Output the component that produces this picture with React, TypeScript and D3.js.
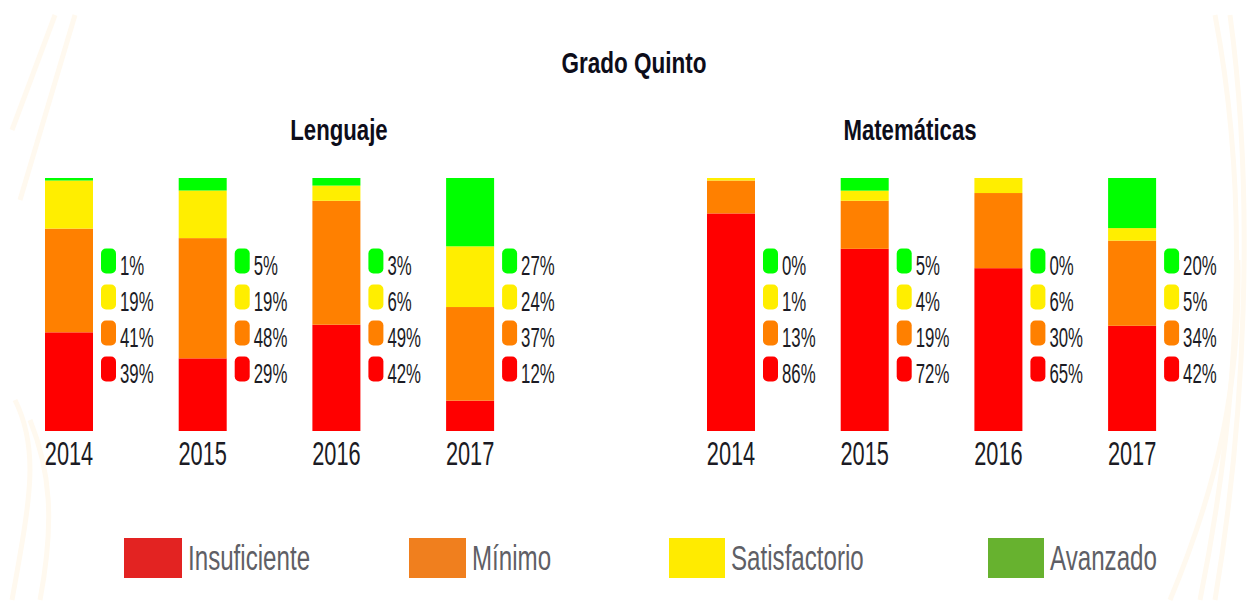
import React from "react";
import * as d3 from "d3";

const years = ["2014", "2015", "2016", "2017"];
const levels = ["Insuficiente", "Mínimo", "Satisfactorio", "Avanzado"];
const barColors = ["#FF0000", "#FF8000", "#FFEE00", "#00FF00"];
const legendColors = ["#E32322", "#F07F1E", "#FFEB00", "#67B22F"];

// Lenguaje values per level (by year)
const lengInsuficiente = [39, 29, 42, 12];
const lengMinimo = [41, 48, 49, 37];
const lengSatisfactorio = [19, 19, 6, 24];
const lengAvanzado = [1, 5, 3, 27];

// Matemáticas values per level (by year)
const matInsuficiente = [86, 72, 65, 42];
const matMinimo = [13, 19, 30, 34];
const matSatisfactorio = [1, 4, 6, 5];
const matAvanzado = [0, 5, 0, 20];

const mainTitle = "Grado Quinto";
const panelTitles = ["Lenguaje", "Matemáticas"];

const W = 1248;
const H = 604;
const FONT = "'Liberation Sans', Arial, sans-serif";

type Panel = { title: string; series: number[][]; x0: number; titleX: number };

const panels: Panel[] = [
  { title: panelTitles[0], series: [lengInsuficiente, lengMinimo, lengSatisfactorio, lengAvanzado], x0: 45, titleX: 339 },
  { title: panelTitles[1], series: [matInsuficiente, matMinimo, matSatisfactorio, matAvanzado], x0: 707, titleX: 910 },
];

const barTop = 178;
const barBottom = 431;
const barW = 48;
const step = 133.7;

function SText(props: { x: number; y: number; sx: number; size: number; anchor?: string; weight?: string | number; fill?: string; children: any }) {
  const { x, y, sx, size, anchor = "start", weight = "normal", fill = "#1b1b24", children } = props;
  return (
    <text
      transform={`translate(${x},${y}) scale(${sx},1)`}
      fontSize={size}
      fontFamily={FONT}
      fontWeight={weight}
      textAnchor={anchor}
      fill={fill}
    >
      {children}
    </text>
  );
}

function PanelView({ p }: { p: Panel }) {
  const x = d3
    .scaleBand<string>()
    .domain(years)
    .range([p.x0, p.x0 + 3 * step + barW])
    .paddingInner(1 - barW / step)
    .paddingOuter(0);
  const stackData = years.map((yr, i) => {
    const o: any = { year: yr };
    levels.forEach((lv, j) => (o[lv] = p.series[j][i]));
    return o;
  });
  const stack = d3.stack<any>().keys(levels)(stackData);
  return (
    <g>
      <SText x={p.titleX} y={140} sx={0.74} size={30} anchor="middle" weight="bold" fill="#0d0d1a">
        {p.title}
      </SText>
      {years.map((yr, i) => {
        const total = d3.sum(levels, (lv) => stackData[i][lv]);
        const y = d3.scaleLinear().domain([0, total]).range([barBottom, barTop]);
        const bx = x(yr) as number;
        return (
          <g key={yr}>
            {stack.map((layer, j) => {
              const [a, b] = layer[i];
              if (b - a <= 0) return null;
              return (
                <rect key={j} x={bx} y={y(b)} width={x.bandwidth()} height={y(a) - y(b)} fill={barColors[j]} />
              );
            })}
            <SText x={bx + barW / 2} y={465} sx={0.66} size={33} anchor="middle">
              {yr}
            </SText>
            {[3, 2, 1, 0].map((j, k) => {
              const cy = 261 + k * 36;
              return (
                <g key={j}>
                  <rect x={bx + 56} y={cy - 12.5} width={15} height={25} rx={5} fill={barColors[j]} />
                  <SText x={bx + 75} y={cy + 14} sx={0.6} size={28}>
                    {p.series[j][i] + "%"}
                  </SText>
                </g>
              );
            })}
          </g>
        );
      })}
    </g>
  );
}

const legendLayout = [
  { x: 124, w: 58 },
  { x: 409, w: 57 },
  { x: 669, w: 56 },
  { x: 988, w: 56 },
];

export default function App() {
  return (
    <svg width={W} height={H} style={{ position: "absolute", left: 0, top: 0, background: "#fff" }}>
      <rect x={0} y={0} width={W} height={H} fill="#fff" />
      {/* faint decorative background stripes */}
      <g fill="none" stroke="#FFF9EF" strokeWidth={5}>
        <path d="M12 130 L55 15" />
        <path d="M20 200 L75 15" />
        <path d="M12 600 C30 500 40 450 15 400" />
        <path d="M40 600 C55 520 50 470 30 420" />
        <path d="M1215 15 C1250 200 1240 400 1200 600" />
        <path d="M1230 15 C1255 200 1245 420 1215 600" />
        <path d="M1170 600 C1220 480 1240 380 1238 260" />
      </g>
      <SText x={634} y={73} sx={0.75} size={30} anchor="middle" weight="bold" fill="#0d0d1a">
        {mainTitle}
      </SText>
      {panels.map((p) => (
        <PanelView key={p.title} p={p} />
      ))}
      {levels.map((lv, i) => (
        <g key={lv}>
          <rect x={legendLayout[i].x} y={538} width={legendLayout[i].w} height={40} fill={legendColors[i]} />
          <SText x={legendLayout[i].x + legendLayout[i].w + 6} y={570} sx={0.69} size={35} fill="#5f5f66">
            {lv}
          </SText>
        </g>
      ))}
    </svg>
  );
}
